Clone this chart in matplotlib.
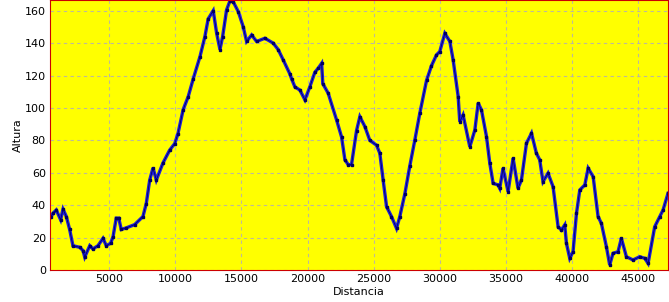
import numpy as np
import matplotlib
matplotlib.use('Agg')
from matplotlib import pylab as plt

# perfil: distancia (m) / altura (m)
distancia = [540, 630, 760, 1010, 1340, 1520, 1770, 2020, 2270, 2780, 3030, 3160,
             3540, 3780, 4160, 4540, 4790, 5120, 5300, 5540, 5730, 5920, 6300, 6930,
             7560, 7810, 8070, 8320, 8570, 9070, 9580, 9960, 10200, 10600, 10980,
             11360, 11870, 12240, 12490, 12870, 13130, 13380, 13580, 13880, 14130,
             14380, 14760, 15140, 15390, 15770, 16150, 16770, 17400, 17780, 18160,
             18660, 18790, 19040, 19420, 19800, 20170, 20550, 20800, 21060, 21150,
             21560, 22190, 22570, 22820, 23070, 23320, 23700, 23950, 24330, 24700,
             25210, 25460, 25710, 25970, 26340, 26720, 26970, 27350, 27720, 28100,
             28480, 28990, 29360, 29740, 29990, 30370, 30750, 31000, 31380, 31500,
             31750, 32260, 32640, 32890, 33140, 33520, 33770, 34020, 34390, 34520,
             34770, 35150, 35530, 35900, 36160, 36540, 36920, 37290, 37540, 37790,
             38170, 38550, 38930, 39180, 39430, 39560, 39810, 40060, 40320, 40570,
             40950, 41200, 41580, 41950, 42200, 42580, 42830, 43080, 43460, 43710,
             44090, 44590, 45100, 45480, 45730, 46230, 46610, 46860, 47235]
altura = [33, 33, 35, 37, 31, 37.5, 33, 25, 15, 14, 12, 8,
          15, 13, 15, 19.5, 15, 16.5, 20.5, 32, 32, 25, 26, 28,
          33, 41, 55.5, 63, 55.5, 66, 74, 78, 84, 99, 107,
          118, 131.7, 144, 155, 160, 146, 136, 144, 160.5, 166,
          165.5, 159.5, 150, 141, 145, 141, 143, 140, 136, 129.6,
          121, 118, 113, 111, 105, 113, 122, 124.5, 127.5, 115,
          109, 92.6, 82, 68, 65, 65, 86, 94.6, 88.5, 80,
          77, 72, 55.5, 39, 33, 25.7, 33, 47, 64, 80,
          96.7, 117, 126, 132.7, 134.8, 146, 141, 129.6, 107, 91.5,
          95.7, 76, 86.4, 103, 98.8, 82.3, 65.8, 53.5, 52.5, 50.4,
          62.8, 48.3, 69, 50.4, 55.5, 78.2, 84.4, 72, 68, 54.5,
          59.7, 51.4, 26.7, 24.7, 27.8, 16.5, 7.2, 11.3, 35, 49.4,
          52.5, 62.8, 57.6, 33, 28.8, 14.4, 3.1, 10.3, 11.3, 19.6,
          8.2, 6.2, 8.2, 7.2, 4.1, 26.7, 33, 37, 47.3]
xticks = [5000, 10000, 15000, 20000, 25000, 30000, 35000, 40000, 45000]
yticks = [0, 20, 40, 60, 80, 100, 120, 140, 160]

fig = plt.figure(figsize=(6.69, 3.02), dpi=100)
ax = fig.add_axes([50/669., 32/302., 618/669., 270/302.])
ax.set_facecolor('#FFFF00')
for s in ax.spines.values():
    s.set_color('#CC0000')

# banda azul + linea oscura fina con puntos encima
ax.plot(distancia, altura, color='#1E1ED8', linewidth=2.4, solid_joinstyle='miter')
ax.plot(distancia, altura, color='#000050', linewidth=0.5, marker='s',
        markersize=1.5, markerfacecolor='#000060', markeredgecolor='#000060')

ax.set_xlim(536, 47235)
ax.set_ylim(0, 166.6)
ax.set_xticks(xticks)
ax.set_yticks(yticks)
ax.grid(True, color='#BDB99A', linestyle=(0, (3, 3)), linewidth=0.8)
ax.set_axisbelow(True)
ax.tick_params(length=0, labelsize=8, pad=3)
ax.set_xlabel('Distancia', fontsize=8, labelpad=2)
ax.set_ylabel('Altura', fontsize=8, labelpad=1)

fig.savefig('out.png', dpi=100)
